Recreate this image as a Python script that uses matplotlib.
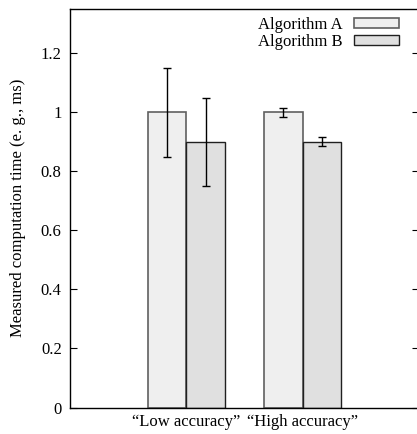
import numpy as np
import matplotlib
matplotlib.use('Agg')
import matplotlib.pyplot as plt

categories = ['\u201cLow accuracy\u201d', '\u201cHigh accuracy\u201d']
series_names = ['Algorithm A', 'Algorithm B']
values_a = [1.0, 1.0]
values_b = [0.9, 0.9]
errors_a = [0.15, 0.015]
errors_b = [0.15, 0.015]
y_ticks = [0, 0.2, 0.4, 0.6, 0.8, 1.0, 1.2]
y_tick_labels = ['0', '0.2', '0.4', '0.6', '0.8', '1', '1.2']

plt.rcParams['font.family'] = ['Liberation Serif', 'DejaVu Serif']
plt.rcParams['font.size'] = 12

fig = plt.figure(figsize=(4.17, 4.34), dpi=100)
W, H = 417, 434
ax = fig.add_axes([70 / W, 1 - 407.5 / H, (419 - 70) / W, (407.5 - 9) / H])

x = np.arange(len(categories))
width = 1 / 3.0
ax.bar(x - width / 2, values_a, width, color='#efefef', edgecolor='#606060',
       linewidth=1.2, label=series_names[0], zorder=2)
ax.bar(x + width / 2, values_b, width, color='#e0e0e0', edgecolor='#202020',
       linewidth=1.0, label=series_names[1], zorder=2)
ax.errorbar(x - width / 2, values_a, yerr=errors_a, fmt='none', ecolor='black',
            elinewidth=1.0, capsize=2.8, capthick=1.0, zorder=3)
ax.errorbar(x + width / 2, values_b, yerr=errors_b, fmt='none', ecolor='black',
            elinewidth=1.0, capsize=2.8, capthick=1.0, zorder=3)

ax.set_xlim(-1, 2)
ax.set_ylim(0, 1.35)
ax.set_xticks(x)
ax.set_xticklabels(categories)
ax.set_yticks(y_ticks)
ax.set_yticklabels(y_tick_labels)
ax.tick_params(axis='x', length=0, pad=5)
ax.tick_params(axis='y', direction='in', length=5, width=0.8, right=True, pad=6)
for s in ax.spines.values():
    s.set_linewidth(1.0)

ax.set_ylabel('Measured computation time (e. g., ms)', labelpad=11)

leg = ax.legend(loc='upper right', bbox_to_anchor=((399 - 70) / (419 - 70) + 0.028, 1.005),
                frameon=False, markerfirst=False, handlelength=2.7, handleheight=0.5,
                handletextpad=0.65, labelspacing=0.05, borderaxespad=0.2)

fig.savefig('out.png', dpi=100)
